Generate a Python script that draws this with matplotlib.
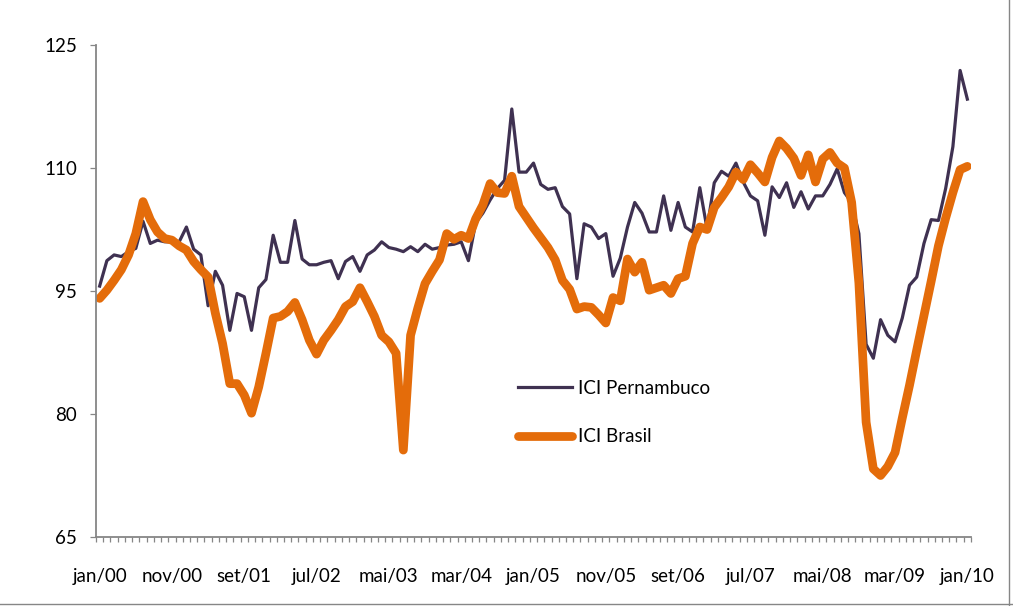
import matplotlib.pyplot as plt
import numpy as np
from matplotlib.lines import Line2D

# Monthly ICI index, jan/00 .. jan/10 (121 months)
ici_pernambuco = [
    95.6, 98.7, 99.4, 99.2, 99.8, 100.2, 103.5, 100.8, 101.2, 101.0,
    101.0, 101.0, 102.8, 100.1, 99.4, 93.2, 97.4, 95.7, 90.2, 94.7,
    94.3, 90.2, 95.4, 96.4, 101.8, 98.5, 98.5, 103.6, 98.9, 98.2,
    98.2, 98.5, 98.7, 96.5, 98.6, 99.2, 97.4, 99.4, 100.0, 101.0,
    100.3, 100.1, 99.8, 100.4, 99.8, 100.7, 100.1, 100.3, 100.6, 100.7,
    101.0, 98.7, 103.3, 104.5, 106.1, 107.5, 108.5, 117.2, 109.5, 109.5,
    110.6, 108.0, 107.4, 107.6, 105.3, 104.4, 96.5, 103.2, 102.8, 101.4,
    102.0, 96.8, 99.0, 102.8, 105.8, 104.5, 102.2, 102.2, 106.6, 102.4,
    105.8, 102.8, 102.2, 107.6, 102.6, 108.2, 109.6, 109.0, 110.6, 108.3,
    106.6, 106.0, 101.8, 107.7, 106.4, 108.2, 105.2, 107.1, 105.0, 106.6,
    106.6, 108.0, 109.9, 107.0, 105.8, 102.0, 88.5, 86.8, 91.5, 89.6,
    88.8, 91.7, 95.7, 96.7, 100.8, 103.7, 103.6, 107.5, 112.6, 121.9,
    118.4,
]
ici_brasil = [
    94.1, 95.1, 96.3, 97.6, 99.4, 102.0, 105.9, 103.7, 102.2, 101.4,
    101.2, 100.5, 100.0, 98.6, 97.6, 96.7, 92.3, 88.6, 83.7, 83.7,
    82.3, 80.1, 83.3, 87.4, 91.7, 91.9, 92.5, 93.6, 91.5, 89.0,
    87.3, 89.0, 90.2, 91.5, 93.1, 93.7, 95.4, 93.7, 91.9, 89.6,
    88.8, 87.4, 75.6, 89.6, 92.9, 95.9, 97.4, 98.8, 102.0, 101.3,
    101.8, 101.4, 103.8, 105.5, 108.1, 107.0, 106.9, 109.0, 105.3, 104.0,
    102.7, 101.5, 100.3, 98.8, 96.3, 95.2, 92.8, 93.1, 93.0, 92.1,
    91.1, 94.2, 93.8, 98.9, 97.3, 98.5, 95.1, 95.4, 95.7, 94.7,
    96.5, 96.8, 100.8, 102.8, 102.5, 105.2, 106.4, 107.7, 109.5, 108.6,
    110.4, 109.4, 108.3, 111.3, 113.3, 112.4, 111.2, 109.1, 111.6, 108.3,
    111.1, 111.9, 110.6, 110.0, 105.8, 96.0, 79.0, 73.3, 72.5, 73.6,
    75.3, 79.5, 83.5, 87.8, 92.0, 96.2, 100.5, 103.9, 107.0, 109.8,
    110.2,
]
tick_labels = ['jan/00', 'nov/00', 'set/01', 'jul/02', 'mai/03', 'mar/04',
               'jan/05', 'nov/05', 'set/06', 'jul/07', 'mai/08', 'mar/09',
               'jan/10']
y_ticks = [65, 80, 95, 110, 125]

plt.rcParams['font.family'] = ['Lato', 'DejaVu Sans']
grey = '#868686'
fsize = 13.5

fig = plt.figure(figsize=(10.13, 6.06), dpi=100)
ax = fig.add_axes([0.0948, 0.1139, 0.8637, 0.8118])

months = np.arange(len(ici_pernambuco))
ax.plot(months, ici_pernambuco, color='#3F3151', lw=2.3,
        solid_joinstyle='round', label='ICI Pernambuco')
ax.plot(months, ici_brasil, color='#E46C0A', lw=6.3,
        solid_joinstyle='round', solid_capstyle='round', label='ICI Brasil')

ax.set_xlim(-0.5, len(months) - 0.5)
ax.set_ylim(y_ticks[0], y_ticks[-1])

# category axis: one small tick per month boundary, label every 10 months
ax.set_xticks(np.arange(0, len(months), 10))
ax.set_xticklabels(tick_labels)
ax.set_xticks(np.arange(-0.5, len(months)), minor=True)
ax.tick_params(axis='x', which='major', length=0, pad=22, labelsize=fsize)
ax.tick_params(axis='x', which='minor', length=3.5, width=0.9, color=grey,
               direction='out')
ax.set_yticks(y_ticks)
ax.tick_params(axis='y', length=4.5, width=0.9, color=grey, pad=9,
               labelsize=fsize)

for side in ['top', 'right']:
    ax.spines[side].set_visible(False)
for side in ['left', 'bottom']:
    ax.spines[side].set_color(grey)
    ax.spines[side].set_linewidth(1.3)

ax.legend(loc='upper left', bbox_to_anchor=(0.463, 0.354), frameon=False,
          fontsize=fsize, handlelength=2.9, handletextpad=0.3,
          labelspacing=1.68)

# chart area border, visible on the right and bottom edges
fig.add_artist(Line2D([0.9965, 0.9965], [0.0, 1.0], transform=fig.transFigure,
                      color=grey, lw=1))
fig.add_artist(Line2D([0.0, 1.0], [0.004, 0.004], transform=fig.transFigure,
                      color=grey, lw=1))

plt.savefig('out.png', dpi=100)
